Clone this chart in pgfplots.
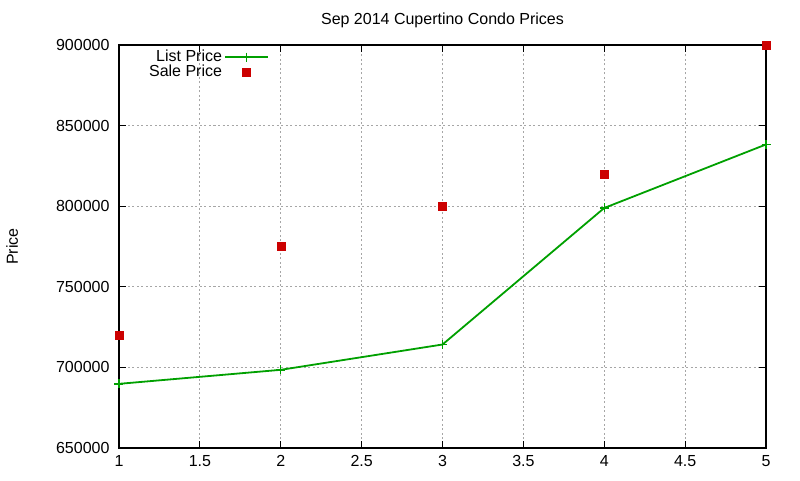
\documentclass[border=0pt]{standalone}
\usepackage{fontspec}
\setmainfont{Liberation Sans}
\usepackage{pgfplots}
\pgfplotsset{compat=1.18}
\definecolor{lgreen}{RGB}{0,160,0}
\definecolor{sred}{RGB}{204,0,0}
\pgfplotsset{
  linelegend/.style={legend image code/.code={\draw[##1] (0pt,0pt) -- (43pt,0pt) plot coordinates {(21.5pt,0pt)};}},
  marklegend/.style={legend image code/.code={\draw[##1] plot[only marks] coordinates {(21.5pt,0pt)};}},
}
\begin{document}
\fontsize{16}{19}\selectfont
\begin{tikzpicture}[x=1pt,y=1pt]
\path[use as bounding box] (-119,-32) rectangle (681,448);
\begin{axis}[
  at={(0,0)}, anchor=origin,
  scale only axis, width=647pt, height=403pt,
  xmin=1, xmax=5, ymin=650000, ymax=900000,
  xtick={1,1.5,...,5},
  ytick={650000,700000,...,900000},
  scaled ticks=false,
  /pgf/number format/fixed,
  /pgf/number format/precision=1,
  /pgf/number format/set thousands separator={},
  /pgf/number format/assume math mode=true,
  tick align=inside,
  major tick length=7pt,
  tick style={black, line width=0.9pt},
  axis line style={black, line width=1.1pt},
  grid=major,
  major grid style={gray!70, dash pattern=on 2pt off 2.5pt, line width=0.8pt},
  xticklabel style={font=\fontsize{16}{19}\selectfont, yshift=-2pt},
  yticklabel style={font=\fontsize{16}{19}\selectfont, xshift=-4pt},
  title={Sep 2014 Cupertino Condo Prices},
  title style={at={(0.5,1)}, anchor=south, yshift=6pt, font=\fontsize{16}{19}\selectfont},
  ylabel={Price},
  ylabel style={at={(axis description cs:-0.165,0.5)}, anchor=center, font=\fontsize{16}{19}\selectfont},
  legend style={draw=none, fill=none, at={(axis description cs:0.2334,0.995)}, anchor=north east,
    font=\fontsize{16}{19}\selectfont, row sep=-3pt, inner sep=1pt},
  legend cell align=right,
  legend plot pos=right,
  clip=false,
]
\addplot[color=lgreen, line width=1.8pt, mark=+, mark size=4.5pt, mark options={line width=1.4pt}, linelegend]
  coordinates {(1,689800) (2,698500) (3,714200) (4,798900) (5,838300)};
\addlegendentry{List Price}
\addplot[only marks, mark=square*, color=sred, mark size=4pt, marklegend]
  coordinates {(1,720000) (2,775000) (3,800000) (4,820000) (5,900000)};
\addlegendentry{Sale Price}
\end{axis}
\end{tikzpicture}
\end{document}
